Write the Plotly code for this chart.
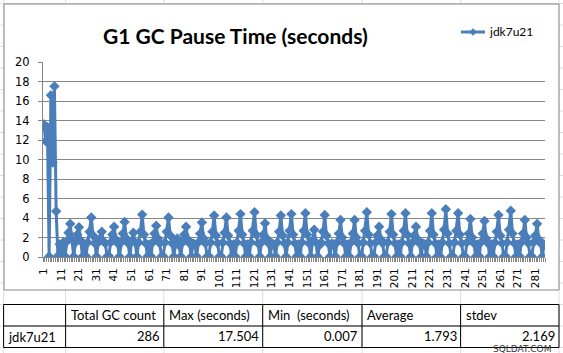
import plotly.graph_objects as go

# ---------------- data ----------------
series_name = "jdk7u21"
pause_seconds = [
    13.6, 11.9, 13.3, 0.05, 16.6, 9.7, 17.504, 4.7, 0.1, 1.3,
    0.05, 1.5, 0.08, 1.6, 2.5, 3.4, 1.8, 0.06, 1.5, 2.3,
    3.05, 1.7, 0.05, 1.3, 0.07, 1.5, 2.6, 4.05, 2.2, 1.4,
    0.05, 1.5, 1.9, 2.6, 1.6, 1.4, 0.06, 0.1, 1.5, 2.3,
    3.1, 1.8, 1.4, 0.05, 1.5, 2.4, 3.6, 1.9, 1.4, 0.05,
    1.6, 2.5, 1.5, 0.06, 1.5, 2.6, 4.35, 2.3, 1.4, 0.05,
    1.3, 0.07, 1.5, 2.4, 3.2, 1.9, 1.4, 0.05, 0.08, 1.5,
    2.6, 4.05, 2.2, 1.4, 0.05, 1.3, 1.9, 1.2, 0.06, 1.5,
    2.3, 3.1, 1.8, 1.4, 0.05, 1.4, 1.3, 0.07, 1.5, 2.4,
    3.55, 1.9, 1.4, 0.05, 0.09, 1.5, 2.6, 4.25, 2.2, 1.4,
    0.05, 0.06, 1.5, 2.5, 4.05, 2.2, 1.4, 0.05, 1.3, 0.07,
    1.5, 2.7, 4.4, 2.3, 1.4, 0.05, 1.3, 0.06, 1.5, 2.7,
    4.6, 2.3, 1.4, 0.05, 1.5, 2.3, 3.45, 1.9, 1.4, 0.05,
    1.4, 1.3, 0.07, 1.5, 2.6, 4.25, 2.2, 1.4, 0.05, 1.5,
    2.7, 4.4, 2.3, 1.4, 0.05, 1.3, 0.06, 1.5, 2.7, 4.5,
    2.3, 1.4, 0.05, 1.7, 2.8, 1.5, 0.05, 1.2, 1.5, 2.6,
    4.3, 2.2, 1.4, 0.05, 1.4, 1.3, 0.07, 1.5, 2.4, 3.8,
    2.0, 1.4, 0.05, 1.3, 0.06, 1.5, 2.4, 3.8, 2.0, 1.4,
    0.05, 0.08, 1.5, 2.7, 4.6, 2.3, 1.4, 0.05, 0.07, 1.5,
    2.2, 3.1, 1.8, 1.4, 0.05, 0.06, 1.5, 2.6, 4.4, 2.3,
    1.4, 0.05, 1.3, 0.07, 1.5, 2.7, 4.5, 2.3, 1.4, 0.05,
    1.5, 2.2, 3.1, 1.8, 1.4, 0.05, 1.4, 1.3, 0.06, 1.5,
    2.7, 4.5, 2.3, 1.4, 0.05, 1.3, 0.007, 1.5, 2.8, 4.9,
    2.4, 1.4, 0.05, 0.08, 1.5, 2.7, 4.5, 2.3, 1.4, 0.05,
    0.06, 1.5, 2.4, 3.9, 2.0, 1.4, 0.05, 1.3, 0.07, 1.5,
    2.4, 3.7, 1.9, 1.4, 0.05, 1.3, 0.06, 1.5, 2.6, 4.3,
    2.2, 1.4, 0.05, 0.08, 1.5, 2.8, 4.75, 2.4, 1.4, 0.05,
    1.3, 0.07, 1.5, 2.4, 3.8, 2.0, 1.4, 0.05, 0.06, 1.5,
    2.2, 3.4, 1.8, 1.4, 0.05, 1.3,
]
assert len(pause_seconds) == 286
gc_index = list(range(1, len(pause_seconds) + 1))

x_tick_vals = [1, 11, 21, 31, 41, 51, 61, 71, 81, 91, 101, 111, 121, 131,
               141, 151, 161, 171, 181, 191, 201, 211, 221, 231, 241, 251,
               261, 271, 281]
x_tick_text = [str(v) for v in x_tick_vals]

title_text = "G1 GC Pause Time (seconds)"
table_header = ["", "Total GC count", "Max (seconds)", "Min  (seconds)", "Average", "stdev"]
table_row = ["jdk7u21", "286", "17.504", "0.007", "1.793", "2.169"]
watermark = "SQLDAT.COM"

# ---------------- layout helpers (pixel -> paper) ----------------
W, H = 563, 353
L, R, T, B = 43, 545, 62, 257
def px(x):
    return (x - L) / (R - L)
def py(y):
    return (B - y) / (B - T)

BLUE = "#4A7EBB"
AXIS = "#868686"
GRIDCELL = "#DADCDD"

fig = go.Figure()
fig.add_trace(go.Scatter(
    x=gc_index, y=pause_seconds, mode="lines+markers", name=series_name,
    line=dict(color=BLUE, width=3),
    marker=dict(symbol="diamond", size=8, color=BLUE),
    showlegend=False, hoverinfo="x+y",
))

shapes = []
col_edges = [3.6, 65.6, 163.8, 262.7, 362, 460.6, 559]
row_lines = [3.5 + 21.5 * k for k in range(17)]
# spreadsheet grid in the background
for cx in col_edges:
    shapes.append(dict(type="line", xref="paper", yref="paper", layer="below",
                       x0=px(cx), x1=px(cx), y0=py(0), y1=py(H),
                       line=dict(color=GRIDCELL, width=1)))
for ry in row_lines:
    shapes.append(dict(type="line", xref="paper", yref="paper", layer="below",
                       x0=px(0), x1=px(W), y0=py(ry), y1=py(ry),
                       line=dict(color=GRIDCELL, width=1)))
# chart box
shapes.append(dict(type="rect", xref="paper", yref="paper", layer="below",
                   x0=px(4), x1=px(559), y0=py(290), y1=py(4),
                   fillcolor="white", line=dict(color=AXIS, width=1)))
# table borders
t_top, t_mid, t_bot = 304.5, 326, 347.5
for ry in (t_top, t_mid, t_bot):
    shapes.append(dict(type="line", xref="paper", yref="paper",
                       x0=px(col_edges[0]), x1=px(col_edges[-1]), y0=py(ry), y1=py(ry),
                       line=dict(color="black", width=1)))
for cx in col_edges:
    shapes.append(dict(type="line", xref="paper", yref="paper",
                       x0=px(cx), x1=px(cx), y0=py(t_top), y1=py(t_bot),
                       line=dict(color="black", width=1)))
# legend sample
shapes.append(dict(type="line", xref="paper", yref="paper",
                   x0=px(461), x1=px(485), y0=py(32), y1=py(32),
                   line=dict(color=BLUE, width=3)))
dx, dy = 3.8, 3.8
shapes.append(dict(type="path", xref="paper", yref="paper",
                   path="M {} {} L {} {} L {} {} L {} {} Z".format(
                       px(473), py(32 - dy), px(473 + dx), py(32),
                       px(473), py(32 + dy), px(473 - dx), py(32)),
                   fillcolor=BLUE, line=dict(color=BLUE, width=0)))

annotations = []
annotations.append(dict(text="<b>" + title_text + "</b>", xref="paper", yref="paper",
                        x=px(235), y=py(35), xanchor="center", yanchor="middle",
                        showarrow=False, font=dict(family="Lato", size=21, color="black")))
annotations.append(dict(text=series_name, xref="paper", yref="paper",
                        x=px(487), y=py(31.5), xanchor="left", yanchor="middle",
                        showarrow=False, font=dict(family="Lato", size=12, color="black")))
hy, dyr = (t_top + t_mid) / 2, (t_mid + t_bot) / 2
for i, txt in enumerate(table_header):
    if txt:
        annotations.append(dict(text=txt, xref="paper", yref="paper",
                                x=px(col_edges[i] + 3), y=py(hy), xanchor="left", yanchor="middle",
                                showarrow=False, font=dict(family="Lato", size=13, color="black")))
for i, txt in enumerate(table_row):
    if i == 0:
        annotations.append(dict(text=txt, xref="paper", yref="paper",
                                x=px(col_edges[i] + 2), y=py(dyr), xanchor="left", yanchor="middle",
                                showarrow=False, font=dict(family="Lato", size=13, color="black")))
    else:
        annotations.append(dict(text=txt, xref="paper", yref="paper",
                                x=px(col_edges[i + 1] - 2), y=py(dyr - 1), xanchor="right", yanchor="middle",
                                showarrow=False, font=dict(family="Lato", size=13, color="black")))
annotations.append(dict(text=watermark, xref="paper", yref="paper",
                        x=px(522), y=py(348.5), xanchor="center", yanchor="middle",
                        showarrow=False, font=dict(family="DejaVu Sans", size=9, color="#3a3a3a")))

fig.update_layout(
    width=W, height=H,
    margin=dict(l=L, r=W - R, t=T, b=H - B, pad=0),
    paper_bgcolor="white", plot_bgcolor="rgba(0,0,0,0)",
    shapes=shapes, annotations=annotations,
    xaxis=dict(range=[0.5, len(pause_seconds) + 0.5], tickmode="array",
               tickvals=x_tick_vals, ticktext=x_tick_text, tickangle=-90,
               ticks="", showgrid=False, zeroline=False,
               showline=True, linecolor=AXIS, linewidth=1,
               ticklabelstandoff=6,
               tickfont=dict(family="DejaVu Sans", size=10.5, color="black"),
               minor=dict(tickmode="linear", tick0=0.5, dtick=1, ticks="outside",
                          ticklen=4, tickcolor=AXIS, showgrid=False)),
    yaxis=dict(range=[0, 20], dtick=2, tick0=0, showgrid=True, gridcolor=AXIS, gridwidth=1,
               zeroline=False, showline=True, linecolor=AXIS, linewidth=1,
               ticks="outside", ticklen=4, tickcolor=AXIS,
               ticklabelstandoff=6,
               tickfont=dict(family="DejaVu Sans", size=11.5, color="black")),
)
fig.write_html("out.html")
